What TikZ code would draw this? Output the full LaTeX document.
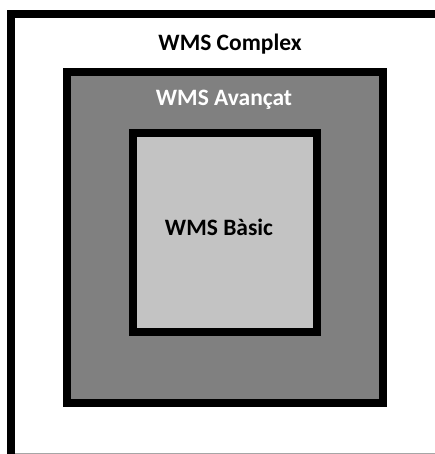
\documentclass[tikz,border=0pt]{standalone}
\usepackage{fontspec}
\setmainfont{Carlito}
\definecolor{midgray}{HTML}{808080}
\definecolor{lightgray}{HTML}{C3C3C3}
\tikzset{
    frame/.style={line width=8pt, draw=black},
    label/.style={font=\bfseries\fontsize{23.5}{28}\selectfont, inner sep=0pt, anchor=base},
}
\begin{document}
\begin{tikzpicture}[x=1pt, y=-1pt]
            \useasboundingbox[fill=white] (0,0) rectangle (435,454);
            \clip (0,0) rectangle (435,454);
            % outer frame, open at the right and the bottom
            \draw[frame] (11,470) -- (11,14) -- (450,14);
            \draw[gray!70, line width=1pt] (15,453) -- (435,453);
            % nested boxes
            \draw[frame, fill=midgray] (67,72) rectangle (383,403);
            \draw[frame, fill=lightgray] (133,133) rectangle (317,332);
            \node[label] (C) at (230,51){WMS Complex};
            \node[label, text=white] (A) at (224,106){WMS Avançat};
            \node[label] (B) at (219,235){WMS Bàsic};
        \end{tikzpicture}
\end{document}
